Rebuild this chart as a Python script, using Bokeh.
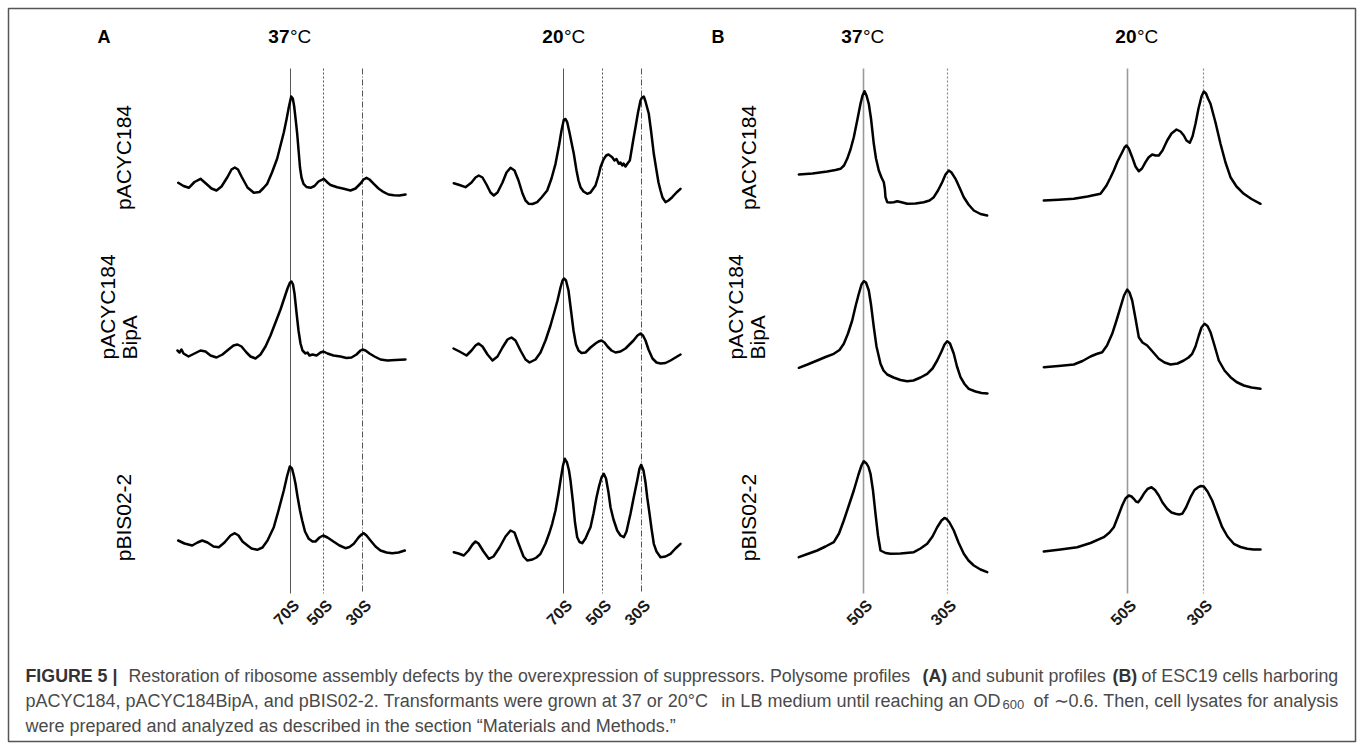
import math
from bokeh.plotting import figure
from bokeh.models import Range1d
from bokeh.core.properties import value
from bokeh.embed import file_html
from bokeh.resources import INLINE

# ---------------- data (position along gradient, absorbance a.u.) ----------------
A37_pACYC184_x = [0.7, 6, 11.3, 17, 23, 29, 34, 39, 44, 50, 54, 57.3, 60.5, 64, 70, 76.3, 82, 86, 89.7, 94.5, 99.7, 103.5, 106.3, 109, 111.3, 113.7, 115.3, 116.7, 118.5, 119.7, 121.5, 122.5, 124, 126, 129, 133, 137, 141, 146.3, 150, 153, 159.7, 166.3, 173, 178, 183, 186, 189, 192, 196.3, 201, 206.3, 211, 216.3, 222, 228]
A37_pACYC184_y = [.477, .445, .427, .485, .517, .465, .42, .40, .44, .535, .61, .63, .61, .54, .43, .377, .385, .425, .467, .58, .72, .87, .98, 1.11, 1.233, 1.34, 1.32, 1.24, 1.08, .967, .75, .63, .53, .467, .435, .427, .445, .49, .517, .48, .455, .433, .417, .40, .42, .47, .51, .527, .51, .467, .42, .383, .36, .353, .35, .36]
A37_BipA_x = [0, 2, 4, 6, 11, 17, 23, 28, 33, 39, 45, 51, 56, 60, 64, 69, 73, 78, 83, 88, 93, 98, 103, 107, 110, 112.5, 114, 115.5, 117, 119, 121, 123, 125, 128, 130, 132, 135, 139, 143, 146, 150, 156, 163, 169, 174, 179, 183, 185, 188, 192, 197, 203, 210, 218, 228]
A37_BipA_y = [.50, .48, .51, .47, .44, .47, .50, .49, .45, .43, .46, .51, .55, .56, .54, .48, .44, .42, .46, .54, .65, .78, .91, 1.03, 1.12, 1.18, 1.19, 1.16, 1.07, .88, .70, .57, .50, .47, .48, .45, .46, .45, .48, .49, .47, .45, .44, .425, .43, .46, .50, .51, .50, .47, .44, .41, .40, .405, .41]
A37_pBIS_x = [0.7, 7, 14.7, 20, 24.7, 30, 36, 41.3, 47, 53, 57.3, 61, 65, 69.7, 74, 79.7, 85, 90, 96.3, 101, 106.3, 109.5, 112.3, 114.5, 116.5, 118, 120, 122.5, 124.7, 127.5, 131.3, 135, 138, 142, 145.7, 150, 156.3, 162, 168, 172, 176.3, 181, 184, 186.3, 189, 193, 198, 203, 209, 214.7, 221, 227.3]
A37_pBIS_y = [.40, .37, .35, .38, .40, .38, .34, .333, .38, .45, .473, .45, .39, .353, .32, .307, .33, .40, .533, .70, .90, 1.04, 1.14, 1.12, 1.04, .967, .84, .70, .60, .49, .417, .39, .39, .43, .45, .43, .387, .35, .323, .335, .367, .43, .46, .473, .45, .40, .34, .30, .28, .273, .28, .30]

A20_pACYC184_x = [0.3, 6, 12, 18, 22, 25.3, 29, 33, 37, 40.3, 44, 49, 53, 57, 61, 65, 69, 72, 75.3, 79, 83.7, 88, 93.7, 98, 102, 105.5, 108, 110.3, 112, 113.7, 116, 118, 120.3, 123, 125, 127, 130, 133.7, 137, 142, 145, 147, 150, 152.7, 155, 158.7, 161, 163, 165.3, 167, 168.7, 170, 172, 174, 176.3, 178, 180, 182, 184.5, 187, 188.5, 190.3, 192, 195.3, 197.5, 200.3, 203, 205, 207, 209, 212, 215, 218.7, 223, 227]
A20_pACYC184_y = [.473, .455, .433, .48, .53, .55, .53, .46, .38, .35, .38, .48, .58, .627, .60, .50, .37, .30, .267, .265, .283, .33, .40, .52, .667, .85, 1.00, 1.107, 1.115, 1.083, .98, .88, .767, .60, .50, .433, .39, .367, .38, .45, .55, .633, .71, .75, .76, .733, .70, .715, .667, .68, .65, .67, .64, .67, .70, .80, .92, 1.033, 1.18, 1.30, 1.33, 1.34, 1.29, 1.167, 1.00, .767, .60, .48, .40, .33, .283, .30, .333, .38, .417]
A20_BipA_x = [0, 6, 13, 18, 22, 25, 29, 34, 39, 44, 49, 54, 58, 62, 67, 72, 76, 82, 87, 92, 97, 101, 104, 107, 109, 110.5, 112.5, 115, 117.5, 120, 122.5, 125, 128, 132, 137, 142, 145, 148, 151, 154, 158, 162, 167, 172, 176, 180, 184, 187, 189.5, 192, 195, 199, 203, 207, 212, 217, 222, 227]
A20_BipA_y = [.52, .49, .45, .50, .55, .57, .54, .46, .40, .44, .53, .61, .63, .60, .50, .41, .38, .41, .48, .60, .75, .89, 1.00, 1.13, 1.20, 1.22, 1.20, 1.10, .90, .70, .56, .50, .475, .48, .53, .57, .59, .60, .58, .54, .50, .48, .49, .52, .56, .60, .65, .67, .65, .60, .51, .42, .38, .37, .375, .40, .43, .46]
A20_pBIS_x = [0.3, 5, 10.3, 15, 19, 22, 25, 30, 35.3, 40, 46, 52, 57, 61, 65, 70, 73.7, 79, 83, 87, 92, 96, 98.7, 102, 105, 107, 109.5, 111.3, 113.5, 115.5, 117, 119.5, 121.5, 123.7, 126, 128.7, 132, 135, 137, 140, 143, 145.3, 148, 150.3, 152.5, 155, 157, 160, 163.7, 167, 170.3, 173, 175, 177, 180, 183.7, 186, 187.7, 190, 192, 193.7, 196, 198, 200.3, 203, 207, 212, 217, 222, 227]
A20_pBIS_y = [.283, .27, .25, .30, .36, .39, .37, .29, .217, .24, .33, .44, .50, .48, .37, .24, .20, .21, .23, .267, .37, .48, .567, .70, .87, 1.00, 1.15, 1.217, 1.18, 1.10, 1.00, .78, .58, .433, .385, .373, .42, .49, .533, .67, .83, .933, 1.03, 1.067, 1.02, .88, .733, .61, .50, .45, .433, .49, .58, .667, .82, 1.00, 1.12, 1.157, 1.10, .98, .833, .67, .52, .367, .29, .233, .24, .267, .32, .367]

B37_pACYC184_x = [0.3, 14, 28.7, 37, 42, 45.5, 48.7, 52, 55.3, 58.5, 62, 64, 66, 68, 70.3, 72.5, 75.3, 77.5, 80.3, 83, 85.3, 86.3, 87, 88.7, 92, 95.3, 98.7, 102, 108.7, 117, 125.3, 131, 135.3, 139.5, 143.7, 147, 150.3, 153, 157, 161, 165.3, 170, 175.3, 182, 188.7]
B37_pACYC184_y = [.56, .57, .59, .605, .617, .65, .717, .81, .933, 1.09, 1.267, 1.35, 1.393, 1.35, 1.267, 1.12, .867, .72, .60, .53, .483, .42, .333, .283, .28, .283, .293, .285, .267, .27, .283, .30, .333, .40, .483, .56, .60, .58, .517, .43, .333, .26, .20, .165, .15]
B37_BipA_x = [0.3, 9, 18.7, 27, 35.3, 41, 45.3, 49.5, 53.7, 57, 60.3, 63, 65.3, 67.5, 70.3, 72.5, 75.3, 78, 82, 85, 88.7, 95, 102, 108.7, 115, 122, 128.7, 134, 138.7, 143, 146, 148.7, 151.5, 155.3, 158.5, 162, 166, 170.3, 177, 183, 189]
B37_BipA_y = [.327, .36, .40, .435, .467, .505, .567, .67, .80, .94, 1.067, 1.16, 1.193, 1.18, 1.10, .96, .733, .54, .367, .30, .26, .23, .205, .193, .20, .23, .267, .32, .40, .49, .56, .593, .57, .467, .34, .233, .165, .117, .09, .075, .07]
B37_pBIS_x = [0.3, 9, 18.7, 27, 35.3, 40.5, 45.3, 50, 55.3, 60, 63, 65.3, 68, 70, 72, 74.5, 77, 79.5, 82, 87, 92, 102, 115.3, 122, 128.7, 134, 138.7, 143, 146, 148, 151, 155.3, 160, 165.3, 170, 175.3, 182, 188.7]
B37_pBIS_y = [.233, .265, .30, .34, .383, .47, .60, .74, .90, 1.06, 1.15, 1.193, 1.17, 1.135, 1.067, .90, .667, .45, .30, .275, .267, .27, .283, .32, .367, .44, .533, .60, .625, .617, .58, .50, .38, .267, .20, .15, .11, .083]

B20_pACYC184_x = [0.3, 15, 30.3, 44, 57, 63, 67, 70.3, 74, 78.7, 81, 83, 85.3, 88.7, 92, 95.3, 98.5, 102, 105, 108.7, 112, 115.3, 119, 123.7, 128, 133, 137, 140.3, 143, 146.3, 149, 152, 155, 158, 160.3, 162.5, 164.5, 167, 172, 177, 182, 187, 193, 200.3, 208, 217]
B20_pACYC184_y = [.30, .307, .317, .34, .367, .45, .53, .60, .69, .783, .83, .85, .82, .733, .64, .593, .62, .683, .73, .76, .75, .75, .80, .90, .97, 1.01, .99, .95, .90, .877, .94, 1.067, 1.22, 1.34, 1.39, 1.37, 1.32, 1.267, 1.08, .867, .68, .533, .44, .367, .315, .267]
B20_BipA_x = [0.3, 15, 30.3, 39, 47, 53, 58.7, 63.5, 68.7, 73, 77, 80.5, 83.7, 86, 88.7, 92, 95.3, 99, 103.7, 109, 115.3, 121, 127, 134, 140.3, 145, 148.7, 152, 155.3, 158, 161, 164, 167, 171, 175.3, 181, 187, 193, 200.3, 208, 217]
B20_BipA_y = [.333, .345, .36, .395, .44, .465, .483, .55, .667, .80, .933, 1.05, 1.11, 1.08, 1.00, .82, .633, .58, .55, .49, .417, .38, .36, .37, .40, .43, .467, .54, .65, .73, .767, .745, .683, .55, .40, .30, .233, .185, .15, .13, .117]
B20_pBIS_x = [0.3, 17, 33.7, 47, 60.3, 66, 70.3, 74.5, 78.7, 82, 85.3, 88, 90.3, 92.5, 94.7, 97.5, 100.3, 104, 108, 111.5, 115.3, 119, 123.7, 128, 132, 135.5, 138.7, 142.5, 147, 151, 154.7, 157.5, 160.3, 164, 168.7, 173.5, 178.7, 184, 190.3, 197, 203.7, 210, 217]
B20_pBIS_y = [.29, .31, .333, .375, .433, .48, .533, .64, .75, .82, .85, .84, .817, .79, .783, .82, .867, .915, .933, .905, .85, .78, .717, .68, .667, .66, .667, .73, .833, .905, .933, .945, .94, .89, .80, .67, .533, .44, .367, .335, .317, .31, .31]

A37_markers = [113, 146, 185]
A20_markers = [110, 149, 188]
A_marker_labels = ["70S", "50S", "30S"]
B37_markers = [65, 149]
B20_markers = [84, 160]
B_marker_labels = ["50S", "30S"]

row_labels = ["pACYC184", "pACYC184\nBipA", "pBIS02-2"]

# ---------------- layout (page pixels) ----------------
PW, PH = 1357, 744                 # page size (bokeh template has no body margin)
ML, MT, MR, MB = 8, 8, 2, 3        # frame inset -> frame outline is the figure border
FW, FH = PW - ML - MR, PH - MT - MB
FONT = value("Liberation Sans")

p = figure(width=PW, height=PH, x_range=Range1d(ML, ML + FW), y_range=Range1d(MT + FH, MT),
           output_backend="svg", toolbar_location=None,
           min_border_left=ML, min_border_top=MT, min_border_right=MR, min_border_bottom=MB,
           x_axis_location=None, y_axis_location=None)
p.xgrid.visible = False
p.ygrid.visible = False
p.outline_line_color = "#555555"
p.outline_line_width = 1.5
p.background_fill_color = "white"
p.border_fill_color = "white"

row_base = [230, 400, 580]
for i, b in enumerate(row_base):
    s = (b - MT - FH) / 100.0
    p.extra_y_ranges[f"r{i}"] = Range1d(s, s + FH / 100.0)

panels = [
    ("A37", 177, [(A37_pACYC184_x, A37_pACYC184_y), (A37_BipA_x, A37_BipA_y), (A37_pBIS_x, A37_pBIS_y)], A37_markers, A_marker_labels, "A"),
    ("A20", 453, [(A20_pACYC184_x, A20_pACYC184_y), (A20_BipA_x, A20_BipA_y), (A20_pBIS_x, A20_pBIS_y)], A20_markers, A_marker_labels, "A"),
    ("B37", 798, [(B37_pACYC184_x, B37_pACYC184_y), (B37_BipA_x, B37_BipA_y), (B37_pBIS_x, B37_pBIS_y)], B37_markers, B_marker_labels, "B"),
    ("B20", 1043, [(B20_pACYC184_x, B20_pACYC184_y), (B20_BipA_x, B20_BipA_y), (B20_pBIS_x, B20_pBIS_y)], B20_markers, B_marker_labels, "B"),
]

styles_A = [("#555555", 1, "solid"), ("#555555", 1, "2 2"), ("#555555", 1, "6 2 1 2")]
styles_B = [("#9a9a9a", 1.6, "solid"), ("#888888", 1.2, "2 2")]

for name, left, rows, markers, mlabels, grp in panels:
    p.extra_x_ranges[name] = Range1d(ML - left, ML - left + FW)
    sty = styles_A if grp == "A" else styles_B
    for m, (c, w, d) in zip(markers, sty):
        p.segment(x0=[m], x1=[m], y0=[68], y1=[593], x_range_name=name,
                  line_color=c, line_width=w, line_dash=d)
    for i, (xs, ys) in enumerate(rows):
        p.line(xs, ys, x_range_name=name, y_range_name=f"r{i}", line_color="black",
               line_width=2.5, line_join="round", line_cap="round")
    p.text(x=markers, y=[602] * len(markers), text=mlabels, x_range_name=name,
           angle=math.pi / 4, text_align="right", text_baseline="middle", x_offset=6,
           text_font=FONT, text_font_style="bold", text_font_size="16px", text_color="#1a1a1a")

# panel letters & headers
p.text(x=[97, 711], y=[36, 36], text=["A", "B"], text_font=FONT, text_font_style="bold",
       text_font_size="18px", text_align="left", text_baseline="middle", text_color="black")
hdr_x = [289, 563, 862, 1136]
hdr_num = ["37", "20", "37", "20"]
p.text(x=hdr_x, y=[36] * 4, text=hdr_num, text_font=FONT, text_font_style="bold",
       text_font_size="19px", text_align="right", text_baseline="middle", text_color="black")
p.text(x=[v + 0.5 for v in hdr_x], y=[36] * 4, text=["°C"] * 4, text_font=FONT,
       text_font_size="19px", text_align="left", text_baseline="middle", text_color="black")

# row labels (rotated)
for cx in (123, 748):
    p.text(x=[cx, cx], y=[157, 517], text=[row_labels[0], row_labels[2]], angle=math.pi / 2,
           text_align="center", text_baseline="middle", text_font=FONT, text_font_size="21px",
           text_color="black")
for x1, x2 in ((107, 129), (735, 757)):
    p.text(x=[x1, x2], y=[359, 359], text=row_labels[1].split("\n"), angle=math.pi / 2,
           text_align="left", text_baseline="middle", text_font=FONT, text_font_size="21px",
           text_color="black")

# caption (justified lines rebuilt from pieces anchored at their positions)
CAP = "#4a4a4a"
DARK = "#333333"
f1 = "17.8px"
f2 = "18px"
segments = [
    ("FIGURE 5 |", 25, 675, "bold", DARK, f1, "left"),
    ("Restoration of ribosome assembly defects by the overexpression of suppressors. Polysome profiles", 128, 675, "normal", CAP, f1, "left"),
    ("(A)", 922, 675, "bold", DARK, f1, "left"),
    ("and subunit profiles", 951, 675, "normal", CAP, f1, "left"),
    ("(B)", 1112, 675, "bold", DARK, f1, "left"),
    ("of ESC19 cells harboring", 1141, 675, "normal", CAP, f1, "left"),
    ("pACYC184, pACYC184BipA, and pBIS02-2. Transformants were grown at 37 or 20°C", 25, 700, "normal", CAP, f2, "left"),
    ("in LB medium until reaching an OD", 1000, 700, "normal", CAP, f2, "right"),
    ("600", 1002, 704, "normal", CAP, "13px", "left"),
    ("of \u223c0.6. Then, cell lysates for analysis", 1033, 700, "normal", CAP, f2, "left"),
    ("were prepared and analyzed as described in the section \u201cMaterials and Methods.\u201d", 25, 725, "normal", CAP, f2, "left"),
]
for t, x, y, st, col, fs, al in segments:
    p.text(x=[x], y=[y], text=[t], text_font=FONT, text_font_style=st, text_font_size=fs,
           text_color=col, text_align=al, text_baseline="middle")

open("out.html", "w").write(file_html(p, INLINE))
